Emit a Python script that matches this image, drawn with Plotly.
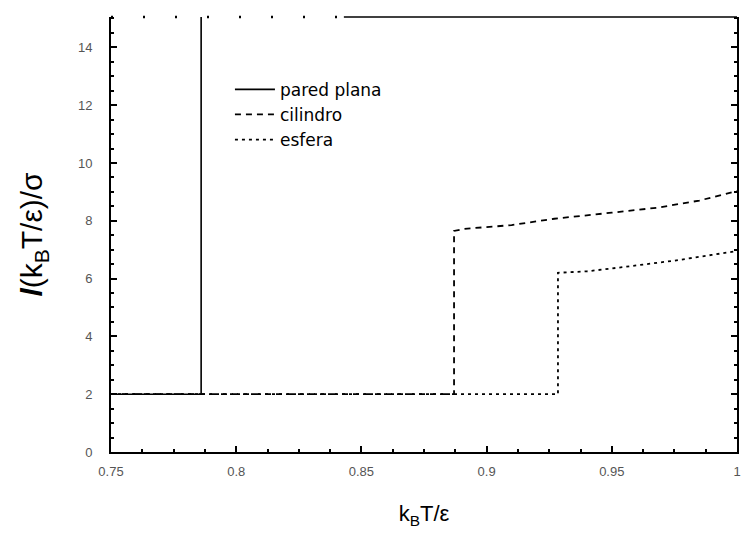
import plotly.graph_objects as go

# Series: wetting-film thickness l(kT/eps)/sigma vs reduced temperature
x_plana = [0.75, 0.786, 0.786]
y_plana = [2.0, 2.0, 20.0]

x_cil = [0.75, 0.887, 0.887, 0.891, 0.91, 0.927, 0.95, 0.968, 0.985, 1.0]
y_cil = [2.0, 2.0, 7.65, 7.72, 7.85, 8.07, 8.28, 8.45, 8.7, 9.03]

x_esf = [0.75, 0.9285, 0.9285, 0.94, 0.95, 0.96, 0.975, 0.99, 1.0]
y_esf = [2.0, 2.0, 6.2, 6.25, 6.35, 6.45, 6.62, 6.82, 6.95]

series_names = ["pared plana", "cilindro", "esfera"]

x_tickvals = [0.75, 0.8, 0.85, 0.9, 0.95, 1.0]
x_ticktext = ["0.75", "0.8", "0.85", "0.9", "0.95", "1"]
y_tickvals = [0, 2, 4, 6, 8, 10, 12, 14]
y_ticktext = ["0", "2", "4", "6", "8", "10", "12", "14"]

fig = go.Figure()
fig.add_trace(go.Scatter(x=x_plana, y=y_plana, mode="lines", name=series_names[0],
                         line=dict(color="black", width=1.6)))
fig.add_trace(go.Scatter(x=x_cil, y=y_cil, mode="lines", name=series_names[1],
                         line=dict(color="black", width=1.8, dash="6px,5px")))
fig.add_trace(go.Scatter(x=x_esf, y=y_esf, mode="lines", name=series_names[2],
                         line=dict(color="black", width=1.8, dash="3px,4px")))

tick_font = dict(family="Liberation Sans, Arial, sans-serif", size=13, color="#555")

fig.update_xaxes(
    range=[0.75, 1.0], tickvals=x_tickvals, ticktext=x_ticktext,
    showline=True, linecolor="black", linewidth=2, mirror=False,
    ticks="inside", ticklen=6, tickwidth=1.5, tickcolor="black",
    minor=dict(dtick=0.0125, ticks="inside", ticklen=3, tickcolor="black", showgrid=False),
    showgrid=False, zeroline=False, tickfont=tick_font, ticklabelstandoff=6,
    title=dict(text="k<sub>B</sub>T/ε", font=dict(family="Liberation Sans, Arial, sans-serif", size=22, color="black"), standoff=28),
)
fig.update_yaxes(
    range=[0, 15.05], tickvals=y_tickvals, ticktext=y_ticktext,
    showline=True, linecolor="black", linewidth=2, mirror="ticks",
    ticks="inside", ticklen=6, tickwidth=1.5, tickcolor="black",
    minor=dict(dtick=0.5, ticks="inside", ticklen=3, tickcolor="black", showgrid=False),
    showgrid=False, zeroline=False, tickfont=tick_font, ticklabelstandoff=14,
    title=dict(text="<b><i>l</i></b>(k<sub>B</sub>T/ε)/σ", font=dict(family="Liberation Sans, Arial, sans-serif", size=30, color="black"), standoff=26),
)

# top frame: sparse dots on the left part, solid on the right
fig.add_shape(type="line", xref="x", yref="paper", x0=0.75, x1=0.843, y0=1, y1=1,
              line=dict(color="black", width=2.5, dash="2px,30px"))
fig.add_shape(type="line", xref="x", yref="paper", x0=0.843, x1=1.0, y0=1, y1=1,
              line=dict(color="black", width=1.6))

fig.update_layout(
    width=744, height=537,
    margin=dict(l=111, r=3, t=17, b=85),
    paper_bgcolor="white", plot_bgcolor="white",
    showlegend=True,
    legend=dict(x=0.19, y=0.874, xanchor="left", yanchor="top",
                bgcolor="rgba(0,0,0,0)", itemwidth=40, tracegroupgap=0,
                font=dict(family="DejaVu Sans, Verdana, sans-serif", size=17, color="black")),
)

fig.write_html("out.html")
